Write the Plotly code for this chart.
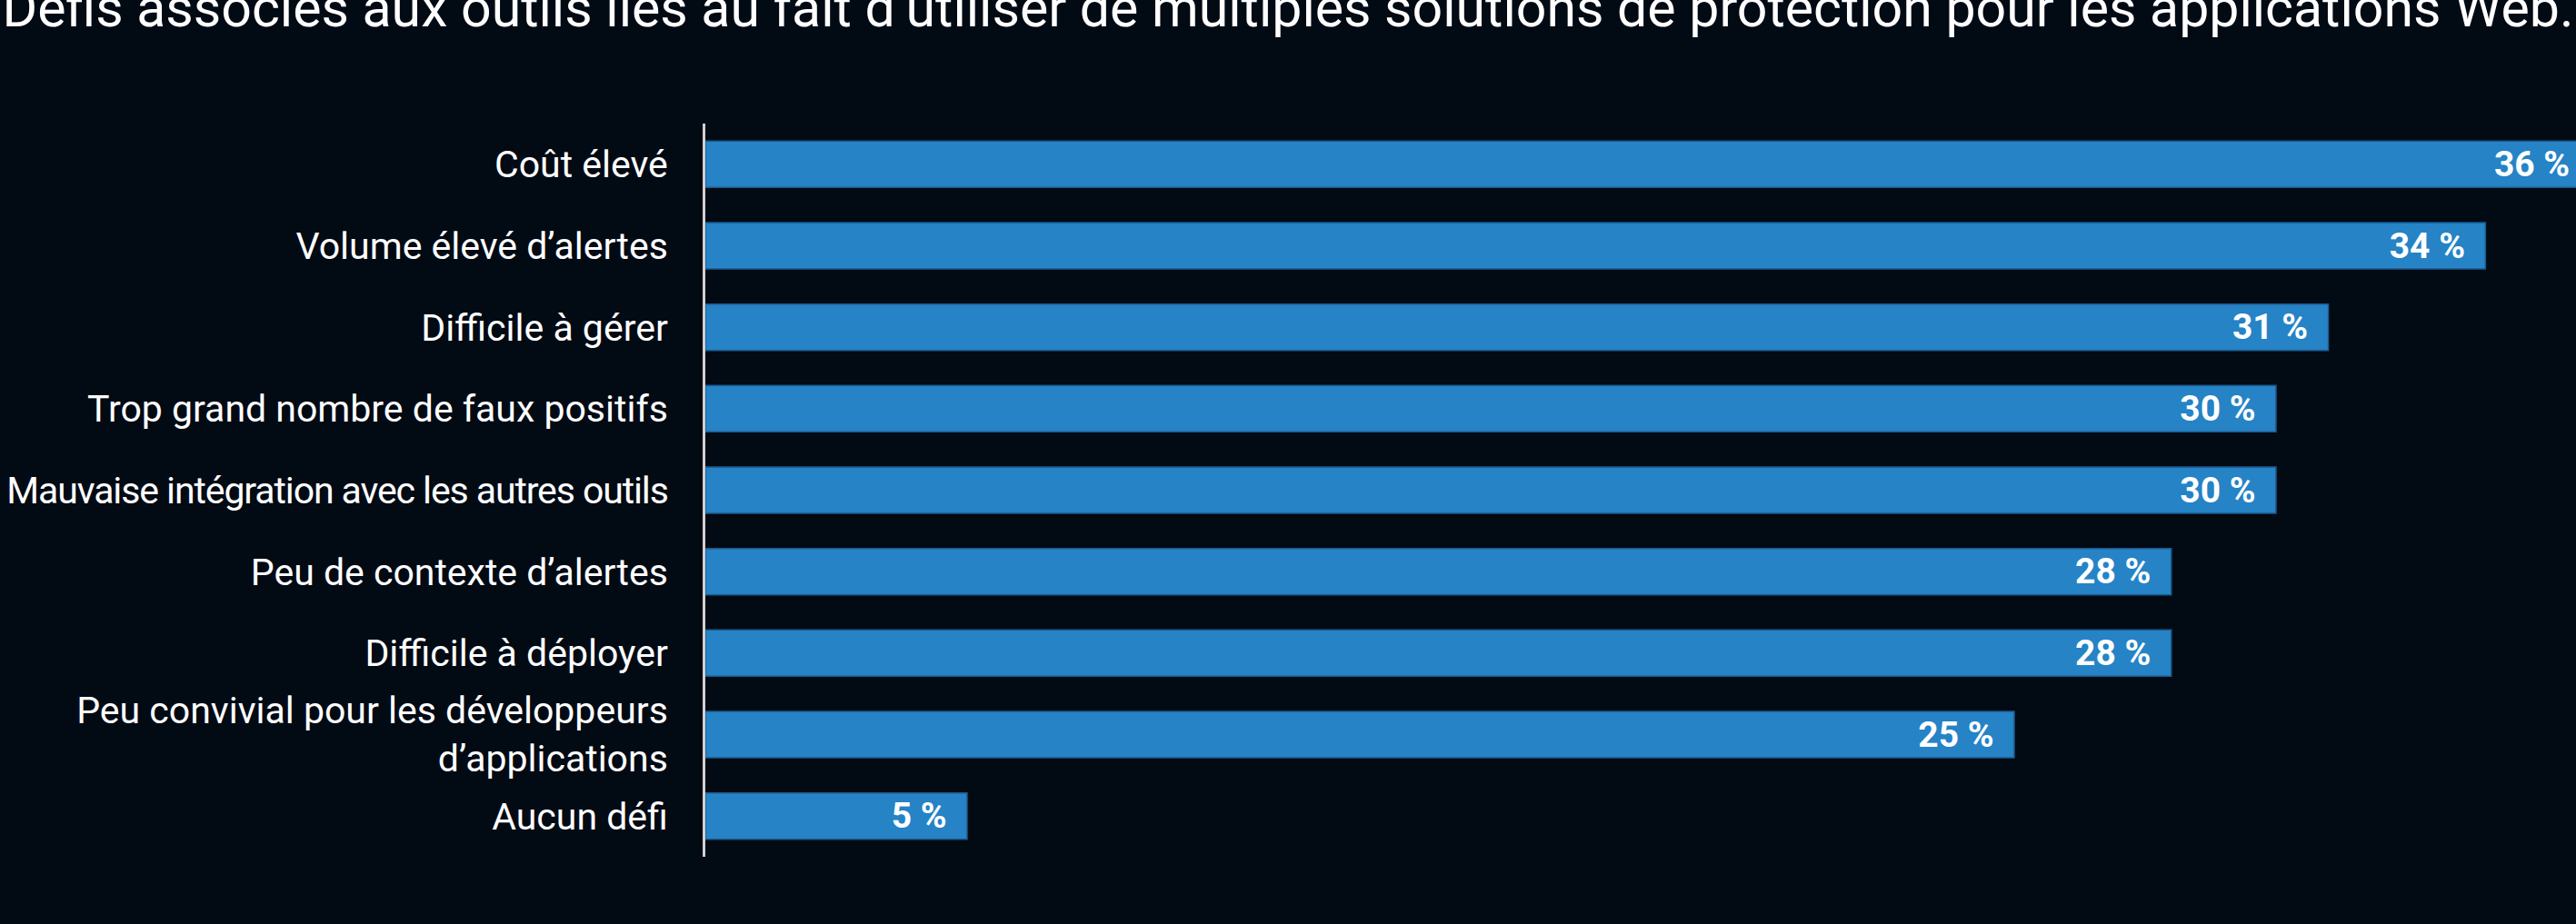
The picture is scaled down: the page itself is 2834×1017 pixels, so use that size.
import plotly.graph_objects as go

title_text = ("Défis associés aux outils liés au fait d’utiliser de multiples "
              "solutions de protection pour les applications Web.")

categories = [
    "Coût élevé",
    "Volume élevé d’alertes",
    "Difficile à gérer",
    "Trop grand nombre de faux positifs",
    "Mauvaise intégration avec les autres outils",
    "Peu de contexte d’alertes",
    "Difficile à déployer",
    "Peu convivial pour les développeurs<br>d’applications",
    "Aucun défi",
]
values = [36, 34, 31, 30, 30, 28, 28, 25, 5]
value_labels = [f"{v}\u00a0%\u00a0\u00a0" for v in values]

BG = "#020a14"
BAR = "#2583c6"
BAR_EDGE = "#1d5a8c"
X_MAX = 35.73

# the longest label is drawn slightly tightened so that it fits the margin
TIGHT_LABELS = {"Mauvaise intégration avec les autres outils"}


def tick_text(label):
    if label in TIGHT_LABELS:
        return f'<span style="letter-spacing:-1.1px">{label}</span>'
    return label


fig = go.Figure(
    go.Bar(
        x=values,
        y=categories,
        orientation="h",
        marker=dict(color=BAR, line=dict(color=BAR_EDGE, width=1.5)),
        text=value_labels,
        textposition="inside",
        insidetextanchor="end",
        constraintext="none",
        textfont=dict(family="Roboto", size=39, color="white", weight="bold"),
        hoverinfo="skip",
        cliponaxis=True,
    )
)

fig.update_layout(
    width=2834,
    height=1017,
    autosize=False,
    paper_bgcolor=BG,
    plot_bgcolor=BG,
    margin=dict(l=776, r=0, t=136, b=74, pad=0, autoexpand=False),
    bargap=0.431,
    showlegend=False,
    title=dict(
        text=title_text,
        x=0.5,
        xref="container",
        xanchor="center",
        y=1 - 29 / 1017,
        yref="container",
        yanchor="bottom",
        font=dict(family="Roboto", size=59, color="white"),
        automargin=False,
    ),
    font=dict(family="Roboto", color="white"),
)

fig.update_xaxes(
    range=[0, X_MAX],
    visible=False,
    showgrid=False,
    zeroline=False,
    automargin=False,
)

fig.update_yaxes(
    type="category",
    categoryorder="array",
    categoryarray=categories,
    tickvals=categories,
    ticktext=[tick_text(c) for c in categories],
    range=[len(categories) - 0.5, -0.5],
    showline=True,
    linecolor="#d0d0d0",
    linewidth=3,
    showgrid=False,
    zeroline=False,
    ticks="",
    ticklabelstandoff=30,
    automargin=False,
    tickfont=dict(family="Roboto", size=41, color="white"),
)

fig.write_html(
    "out.html",
    config={"displayModeBar": False},
    post_script="document.body.style.margin='0';document.body.style.background='#020a14';",
)
